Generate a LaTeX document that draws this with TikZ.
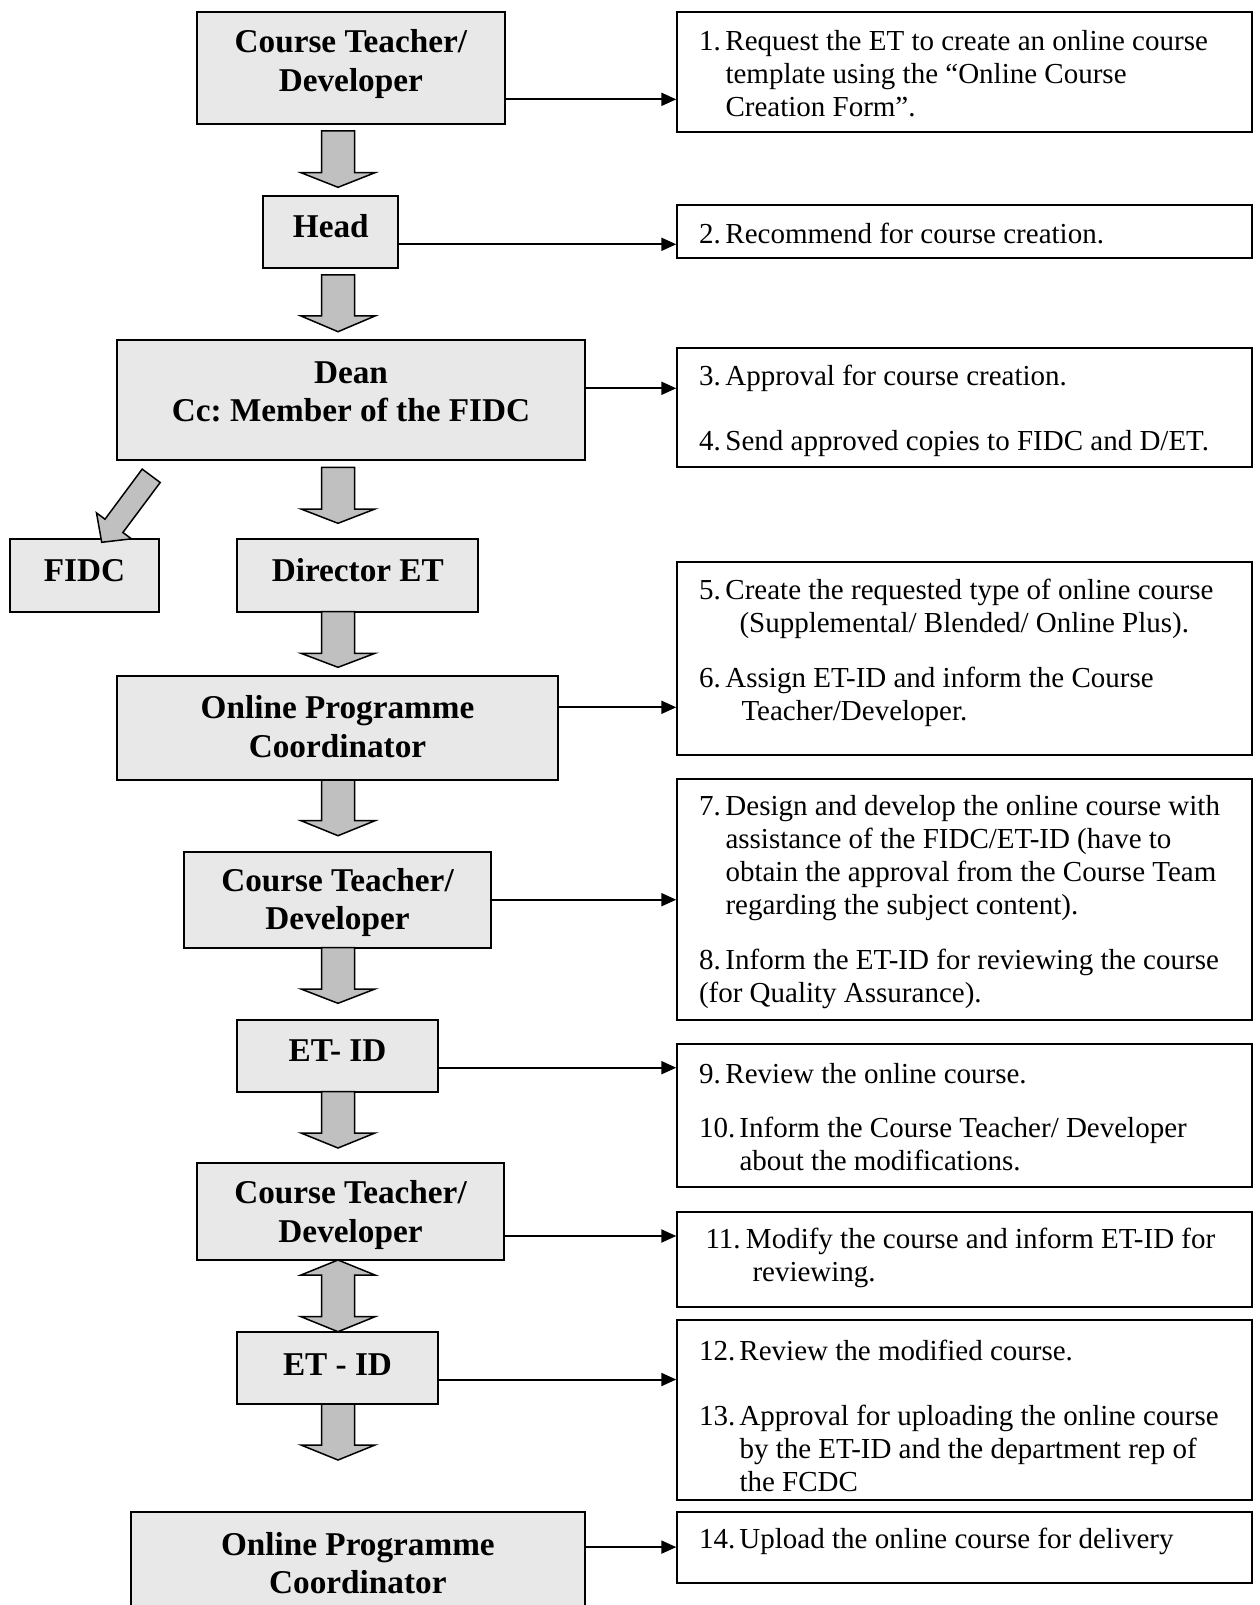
\documentclass[tikz,border=0pt]{standalone}
\usepackage{fontspec}
\setmainfont{Liberation Serif}
\frenchspacing
\usetikzlibrary{arrows.meta}

\definecolor{boxgray}{HTML}{E8E8E8}
\definecolor{arrowgray}{HTML}{C0C0C0}
\tikzset{
  actor/.style={draw, line width=0.8pt, fill=boxgray, inner sep=0pt},
  actortext/.style={font=\fontsize{13.3}{15.4}\selectfont\bfseries, align=center, inner sep=0pt},
  stepbox/.style={draw, line width=0.8pt, inner sep=0pt, minimum width=229.88pt},
  steptext/.style={font=\fontsize{11.6}{13.2}\selectfont, align=left, inner sep=0pt, anchor=west},
  flow/.style={line width=0.8pt, -{Triangle[length=6pt,width=5.2pt]}},
  blockarrow/.style={draw, line width=0.6pt, fill=arrowgray, line join=miter},
}
\newcommand{\itemno}[2][10.6pt]{\makebox[#1][l]{#2}}

\begin{document}
\begin{tikzpicture}[x=0.4pt,y=-0.4pt]
\useasboundingbox (0,0) rectangle (1259,1605);

% who does it
\node[actor, minimum width=123.32pt, minimum height=44.92pt, label={[actortext,yshift=1.6pt]center:{Course Teacher/\\Developer}}] (ct1) at (350.85,67.85) {};
\node[actor, minimum width=54pt, minimum height=28.92pt, label={[actortext,yshift=2.6pt]center:Head}] (head) at (330.8,232.15) {};
\node[actor, minimum width=187.2pt, minimum height=48pt, label={[actortext,yshift=3.2pt]center:{Dean\\Cc: Member of the FIDC}}] (dean) at (351,400) {};
\node[actor, minimum width=59.6pt, minimum height=28.96pt, label={[actortext,yshift=2pt]center:FIDC}] (fidc) at (84.5,575.5) {};
\node[actor, minimum width=96.4pt, minimum height=28.96pt, label={[actortext,yshift=2pt]center:Director ET}] (det) at (357.8,575.5) {};
\node[actor, minimum width=176.16pt, minimum height=41.6pt, label={[actortext,yshift=0.5pt]center:{Online Programme\\Coordinator}}] (opc1) at (337.5,728) {};
\node[actor, minimum width=122.8pt, minimum height=38.4pt, label={[actortext,yshift=-1.2pt]center:{Course Teacher/\\Developer}}] (ct2) at (337.5,899.7) {};
\node[actor, minimum width=80.16pt, minimum height=28.68pt, label={[actortext,yshift=2pt]center:ET- ID}] (etid1) at (337.5,1055.85) {};
\node[actor, minimum width=123.04pt, minimum height=38.68pt, label={[actortext,yshift=-1.4pt]center:{Course Teacher/\\Developer}}] (ct3) at (350.5,1211.65) {};
\node[actor, minimum width=80.16pt, minimum height=28.92pt, label={[actortext,yshift=1.4pt]center:ET - ID}] (etid2) at (337.5,1367.85) {};
\node[actor, minimum width=181.72pt, minimum height=45.32pt, label={[actortext,yshift=2pt]center:{Online Programme\\Coordinator}}] (opc2) at (357.85,1568.35) {};

% what is done
\node[stepbox, minimum height=48pt] (r1) at (964.65,71.7) {};
\node[stepbox, minimum height=21.4pt] (r2) at (964.65,231.75) {};
\node[stepbox, minimum height=47.6pt] (r3) at (964.65,407.2) {};
\node[stepbox, minimum height=77.2pt] (r4) at (964.65,658.5) {};
\node[stepbox, minimum height=96.28pt] (r5) at (964.65,899.65) {};
\node[stepbox, minimum height=57.2pt] (r6) at (964.65,1115.5) {};
\node[stepbox, minimum height=38pt] (r7) at (964.65,1259.5) {};
\node[stepbox, minimum height=71.8pt] (r8) at (964.65,1409.75) {};
\node[stepbox, minimum height=28.28pt] (r9) at (964.65,1547.35) {};

\node[steptext] (t1) at (698.5,74) {\itemno{1.}Request the ET to create an online course\\\hspace*{10.6pt}template using the “Online Course\\\hspace*{10.6pt}Creation Form”.};
\node[steptext] (t2) at (698.5,233) {\itemno{2.}Recommend for course creation.};
\node[steptext] (t3) at (698.5,378) {\itemno{3.}Approval for course creation.};
\node[steptext] (t4) at (698.5,443.5) {\itemno{4.}Send approved copies to FIDC and D/ET.};
\node[steptext] (t5) at (698.5,608.5) {\itemno{5.}Create the requested type of online course\\\hspace*{16.2pt}(Supplemental/ Blended/ Online Plus).};
\node[steptext] (t6) at (698.5,697) {\itemno{6.}Assign ET-ID and inform the Course\\\hspace*{17pt}Teacher/Developer.};
\node[steptext] (t7) at (698.5,858.5) {\itemno{7.}Design and develop the online course with\\\hspace*{10.6pt}assistance of the FIDC/ET-ID (have to\\\hspace*{10.6pt}obtain the approval from the Course Team\\\hspace*{10.6pt}regarding the subject content).};
\node[steptext] (t8) at (698.5,978.5) {\itemno{8.}Inform the ET-ID for reviewing the course\\(for Quality Assurance).};
\node[steptext] (t9) at (698.5,1074) {\itemno{9.}Review the online course.};
\node[steptext] (t10) at (698.5,1143.5) {\itemno[16.2pt]{10.}Inform the Course Teacher/ Developer\\\hspace*{16.2pt}about the modifications.};
\node[steptext] (t11) at (705,1258) {\itemno[16.2pt]{11.}Modify the course and inform ET-ID for\\\hspace*{18.8pt}reviewing.};
\node[steptext] (t12) at (698.5,1350) {\itemno[16.2pt]{12.}Review the modified course.};
\node[steptext] (t13) at (698.5,1448.3) {\itemno[16.2pt]{13.}Approval for uploading the online course\\\hspace*{16.2pt}by the ET-ID and the department rep of\\\hspace*{16.2pt}the FCDC};
\node[steptext] (t14) at (698.5,1541) {\itemno[16.2pt]{14.}Upload the online course for delivery};

% thin arrows to the steps
\foreach \a/\b/\s in {ct1/r1/-12.6, head/r2/-4.86, dean/r3/4.68, opc1/r4/8.28, ct2/r5/0, etid1/r6/-4.74, ct3/r7/-9.74, etid2/r8/-4.66, opc2/r9/8.5}
  \draw[flow] ([yshift=\s pt]\a.east) -- ([yshift=\s pt]\a.east -| \b.west);

% block arrows down the chain
\foreach \t/\b/\p in {131/172.7/187.3, 275/316/331.7, 467.3/509/523.3, 611.7/653.3/667.3, 780/820.7/835.7, 947.7/989/1003.3, 1091.7/1133/1148, 1404/1445/1460}
  \draw[blockarrow] (321.5,\t) -- (354.5,\t) -- (354.5,\b) -- (375,\b) -- (338,\p) -- (301,\b) -- (321.5,\b) -- cycle;
\draw[blockarrow] (338,1260) -- (375,1275) -- (354.5,1275) -- (354.5,1316.7) -- (375,1316.7) -- (338,1331.7) -- (301,1316.7) -- (321.5,1316.7) -- (321.5,1275) -- (301,1275) -- cycle;
\draw[blockarrow] (142.2,469.1) -- (160.2,482.5) -- (122.9,532.5) -- (131.4,538.8) -- (101.7,542.3) -- (96.5,512.9) -- (105,519.2) -- cycle;
\end{tikzpicture}
\end{document}
